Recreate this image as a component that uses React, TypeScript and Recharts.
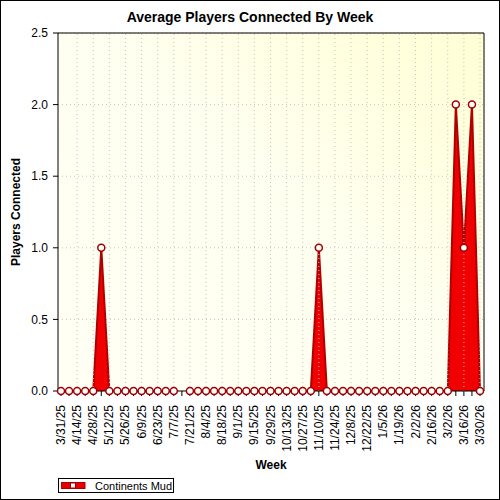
import {
  Area,
  AreaChart,
  CartesianGrid,
  Legend,
  ReferenceLine,
  XAxis,
  YAxis,
} from "recharts";

const FONT = "'Liberation Sans', Arial, sans-serif";

const weeks = [
  "3/31/25", "4/7/25", "4/14/25", "4/21/25", "4/28/25", "5/5/25", "5/12/25",
  "5/19/25", "5/26/25", "6/2/25", "6/9/25", "6/16/25", "6/23/25", "6/30/25",
  "7/7/25", "7/14/25", "7/21/25", "7/28/25", "8/4/25", "8/11/25", "8/18/25",
  "8/25/25", "9/1/25", "9/8/25", "9/15/25", "9/22/25", "9/29/25", "10/6/25",
  "10/13/25", "10/20/25", "10/27/25", "11/3/25", "11/10/25", "11/17/25",
  "11/24/25", "12/1/25", "12/8/25", "12/15/25", "12/22/25", "12/29/25",
  "1/5/26", "1/12/26", "1/19/26", "1/26/26", "2/2/26", "2/9/26", "2/16/26",
  "2/23/26", "3/2/26", "3/9/26", "3/16/26", "3/23/26", "3/30/26",
];

// "Continents Mud" average players per week (7/14/25 has no value)
const players = [
  0, 0, 0, 0, 0, 1, 0, 0, 0, 0, 0, 0, 0, 0,
  0, null, 0, 0, 0, 0, 0, 0, 0, 0, 0, 0, 0, 0,
  0, 0, 0, 0, 1, 0, 0, 0, 0, 0, 0, 0, 0, 0,
  0, 0, 0, 0, 0, 0, 0, 2, 1, 2, 0,
];

// every other week carries a label and a grid line
const labelWeeks = [
  "3/31/25", "4/14/25", "4/28/25", "5/12/25", "5/26/25", "6/9/25", "6/23/25",
  "7/7/25", "7/21/25", "8/4/25", "8/18/25", "9/1/25", "9/15/25", "9/29/25",
  "10/13/25", "10/27/25", "11/10/25", "11/24/25", "12/8/25", "12/22/25",
  "1/5/26", "1/19/26", "2/2/26", "2/16/26", "3/2/26", "3/16/26", "3/30/26",
];

const majorY = [0, 0.5, 1, 1.5, 2, 2.5];
const minorY = [
  0, 0.1, 0.2, 0.3, 0.4, 0.5, 0.6, 0.7, 0.8, 0.9, 1, 1.1, 1.2, 1.3, 1.4, 1.5,
  1.6, 1.7, 1.8, 1.9, 2, 2.1, 2.2, 2.3, 2.4, 2.5,
];

const data = weeks.map((week, i) => ({ week, players: players[i] }));

const PAD = { left: 3, right: 4 };

function WeekTick(props: any) {
  const { x, y, payload } = props;
  if (!labelWeeks.includes(payload.value)) return <g />;
  return (
    <text
      x={x}
      y={y}
      transform={`rotate(-90 ${x} ${y})`}
      textAnchor="end"
      dominantBaseline="central"
      fontSize={12}
      fontFamily={FONT}
      fill="#000"
    >
      {payload.value}
    </text>
  );
}

function LegendBox(props: any) {
  const entry = props.payload?.[0];
  return (
    <div
      style={{
        boxSizing: "border-box",
        width: 116,
        height: 15,
        border: "1px solid #000",
        background: "#fff",
        display: "flex",
        alignItems: "center",
        fontFamily: FONT,
        fontSize: 11,
        color: "#000",
      }}
    >
      <svg width={26} height={13} style={{ marginLeft: 2, marginRight: 8 }}>
        <rect x={0} y={3.5} width={24} height={6} fill="#e80000" stroke="#b00000" strokeWidth={1} />
        <rect x={9.5} y={4} width={5} height={5} fill="#fff" stroke="#a00000" strokeWidth={1} />
      </svg>
      <span>{entry ? entry.value : "Continents Mud"}</span>
    </div>
  );
}

export default function App() {
  return (
    <div style={{ position: "relative", width: 500, height: 500, background: "#fff" }}>
      <style>{"body{margin:0}"}</style>
      <div
        style={{
          position: "absolute",
          top: 9,
          left: 0,
          width: 500,
          textAlign: "center",
          fontFamily: FONT,
          fontWeight: "bold",
          fontSize: 14,
          lineHeight: "16px",
          zIndex: 2,
        }}
      >
        Average Players Connected By Week
      </div>
      <AreaChart
        width={500}
        height={500}
        data={data}
        margin={{ top: 33, right: 16, bottom: 0, left: 0 }}
        style={{ fontFamily: FONT }}
      >
        <defs>
          <linearGradient id="plotBg" x1="0" y1="1" x2="1" y2="0">
            <stop offset="0%" stopColor="#fffff4" />
            <stop offset="55%" stopColor="#fffff0" />
            <stop offset="100%" stopColor="#ffffd4" />
          </linearGradient>
        </defs>
        <CartesianGrid
          vertical={false}
          stroke="#c4c4c4"
          strokeDasharray="1 3"
          fill="url(#plotBg)"
          fillOpacity={1}
        />
        {labelWeeks.map((w) => (
          <ReferenceLine key={w} x={w} stroke="#c4c4c4" strokeDasharray="1 3" />
        ))}
        <XAxis
          dataKey="week"
          interval={0}
          height={109}
          padding={PAD}
          tick={WeekTick}
          tickSize={5}
          tickMargin={9}
          axisLine={{ stroke: "#000" }}
          tickLine={{ stroke: "#000" }}
          label={{
            value: "Week",
            position: "insideTop",
            offset: 69,
            fill: "#000",
            fontSize: 12,
            fontWeight: "bold",
          }}
        />
        <XAxis
          xAxisId="bottomIn"
          dataKey="week"
          interval={0}
          mirror
          padding={PAD}
          tick={false}
          tickSize={3}
          axisLine={false}
          tickLine={{ stroke: "#000" }}
        />
        <XAxis
          xAxisId="top"
          orientation="top"
          dataKey="week"
          interval={0}
          mirror
          padding={PAD}
          tick={false}
          tickSize={4}
          axisLine={{ stroke: "#000" }}
          tickLine={{ stroke: "#000" }}
        />
        <YAxis
          width={58}
          domain={[0, 2.5]}
          ticks={majorY}
          interval={0}
          tickFormatter={(v: number) => v.toFixed(1)}
          tick={{ fill: "#000", fontSize: 12 }}
          tickSize={5}
          tickMargin={5}
          axisLine={{ stroke: "#000" }}
          tickLine={{ stroke: "#000" }}
          label={({ viewBox }: any) => (
            <text
              x={viewBox.x + 16}
              y={viewBox.y + viewBox.height / 2}
              transform={`rotate(-90 ${viewBox.x + 16} ${viewBox.y + viewBox.height / 2})`}
              textAnchor="middle"
              dominantBaseline="central"
              fontSize={12}
              fontWeight="bold"
              fontFamily={FONT}
              fill="#000"
            >
              Players Connected
            </text>
          )}
        />
        <YAxis
          yAxisId="leftIn"
          mirror
          domain={[0, 2.5]}
          ticks={minorY}
          interval={0}
          tick={false}
          tickSize={3}
          axisLine={false}
          tickLine={{ stroke: "#000" }}
        />
        <YAxis
          yAxisId="right"
          orientation="right"
          mirror
          domain={[0, 2.5]}
          ticks={minorY}
          interval={0}
          tick={false}
          tickSize={4}
          axisLine={{ stroke: "#000" }}
          tickLine={{ stroke: "#000" }}
        />
        <Area
          type="linear"
          dataKey="players"
          name="Continents Mud"
          stroke="#b00000"
          strokeWidth={2}
          fill="#f00000"
          fillOpacity={1}
          dot={{ r: 3.5, fill: "#fff", stroke: "#a00000", strokeWidth: 1.5 }}
          activeDot={false}
          isAnimationActive={false}
        />
        <Legend
          layout="horizontal"
          verticalAlign="middle"
          align="center"
          content={LegendBox}
          wrapperStyle={{ left: 58, top: 478, width: 116, height: 15 }}
        />
      </AreaChart>
      <div
        style={{
          position: "absolute",
          inset: 0,
          border: "1px solid #000",
          pointerEvents: "none",
        }}
      />
    </div>
  );
}
